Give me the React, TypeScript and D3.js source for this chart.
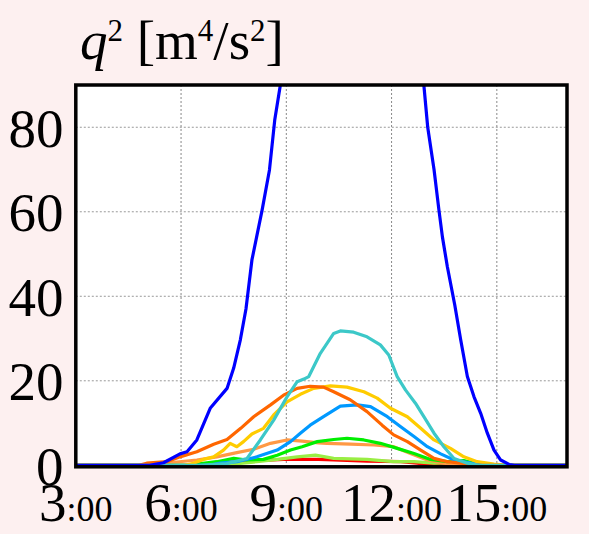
import React from "react";
import * as d3 from "d3";

const xTicks = [3, 6, 9, 12, 15];
const xTickLabels = ["3", "6", "9", "12", "15"];
const yTicks = [0, 20, 40, 60, 80];
const gridX = [6, 9, 12, 15];
const gridY = [20, 40, 60, 80];

type P = [number, number];

const blue: P[] = [
  [3, 0], [5.1, 0], [5.5, 0.6], [5.97, 2.7], [6.17, 3.2], [6.45, 6], [6.83, 13.5], [7.31, 18.2],
  [7.5, 23], [7.69, 29.7], [7.85, 37], [8.02, 48.6], [8.31, 60.4], [8.52, 69.9], [8.59, 75.4],
  [8.67, 81.7], [8.83, 90], [9.2, 110], [10, 140], [11, 160], [12, 140], [12.7, 102],
  [12.92, 90], [13.03, 80], [13.21, 70], [13.35, 60.4], [13.45, 54], [13.59, 47], [13.8, 38],
  [13.97, 29.7], [14.16, 21], [14.35, 16.2], [14.54, 12.3], [14.73, 7.6], [14.92, 3.6],
  [15.11, 1.25], [15.35, 0.2], [15.5, 0], [17, 0],
];
const cyan: P[] = [
  [3, 0], [6.5, 0], [7.3, 0.4], [7.88, 1.6], [8.26, 6], [8.64, 10.7], [9.02, 16.2], [9.31, 19.8],
  [9.5, 20.4], [9.64, 21], [9.97, 26.5], [10.35, 31.2], [10.54, 31.8], [10.92, 31.5], [11.3, 30.4],
  [11.68, 28.5], [11.92, 26.1], [12.16, 21], [12.4, 17.8], [12.68, 14.7], [12.92, 11.5],
  [13.21, 7.6], [13.49, 4.4], [13.78, 1.6], [14.16, 0.5], [14.5, 0], [17, 0],
];
const orangeRed: P[] = [
  [3, 0], [4.8, 0], [5.02, 0.5], [5.6, 0.85], [5.97, 2], [6.45, 3.2], [6.93, 5], [7.31, 6.1],
  [7.7, 8.75], [8.07, 11.5], [8.55, 14.3], [8.92, 16.6], [9.31, 18.2], [9.68, 18.7], [10.06, 18.5],
  [10.35, 17.4], [10.82, 15.5], [11.3, 12.7], [11.73, 9.5], [12.06, 7.2], [12.45, 5.6],
  [12.83, 3.6], [13.21, 1.65], [13.59, 0.85], [14.16, 0.3], [14.5, 0], [17, 0],
];
const gold: P[] = [
  [3, 0], [6.1, 0], [6.35, 0.5], [6.64, 1.4], [6.93, 2], [7.21, 3.6], [7.4, 5.2], [7.59, 4.4],
  [7.78, 5.6], [8.02, 7.4], [8.35, 8.75], [8.64, 11.9], [9.02, 15], [9.4, 16.8], [9.78, 18.2],
  [10.26, 18.8], [10.73, 18.5], [11.21, 17.4], [11.59, 15.9], [11.97, 13.5], [12.45, 11.5],
  [12.83, 8.75], [13.21, 6], [13.68, 4], [14.06, 2], [14.44, 0.85], [14.92, 0.3], [15.3, 0], [17, 0],
];
const dodger: P[] = [
  [3, 0], [6.8, 0], [7.12, 0.5], [7.59, 0.85], [8.16, 2], [8.74, 3.6], [9.12, 5.6], [9.4, 7.6],
  [9.68, 9.5], [10.06, 11.5], [10.54, 14], [11.02, 14.3], [11.4, 13.9], [11.88, 11.5],
  [12.26, 9.1], [12.64, 6.8], [13.02, 4.4], [13.4, 2.7], [13.78, 1.25], [14.26, 0.5], [14.7, 0], [17, 0],
];
const green: P[] = [
  [3, 0], [6.2, 0], [6.45, 0.3], [7.02, 0.85], [7.5, 1.65], [7.88, 1.25], [8.35, 1.4], [8.74, 2.4],
  [9.12, 3.6], [9.45, 4.4], [9.88, 5.6], [10.35, 6.1], [10.73, 6.4], [11.21, 6], [11.68, 5.2],
  [12.16, 4], [12.64, 2.8], [13.11, 1.4], [13.59, 0.85], [14.06, 1.1], [14.44, 0.3], [14.8, 0], [17, 0],
];
const lightOrange: P[] = [
  [3, 0], [5.0, 0], [5.31, 0.3], [6.45, 1.25], [7.02, 2], [7.59, 3], [8.07, 3.8], [8.55, 5.2],
  [9.02, 6], [9.45, 5.7], [9.92, 5.3], [10.16, 5.2], [10.83, 5], [11.5, 4.8], [12.06, 4.4],
  [12.54, 2.8], [13.02, 1.25], [13.49, 0.5], [14, 0], [17, 0],
];
const yellowGreen: P[] = [
  [3, 0], [7.2, 0], [7.4, 0.2], [8.16, 0.85], [8.74, 1.4], [9.31, 2], [9.83, 2.4], [10.35, 1.65],
  [11.3, 1.4], [12.06, 0.85], [12.64, 0.85], [13.21, 0.5], [13.87, 0.6], [14.3, 0], [17, 0],
];
const red: P[] = [
  [3, 0], [6.3, 0], [6.6, 0.3], [8.16, 1.1], [8.92, 1.4], [9.92, 1.4], [10.35, 1.25], [11.3, 1.0],
  [12.26, 0.85], [12.73, 0.5], [13.2, 0], [17, 0],
];

const seriesData = [red, yellowGreen, lightOrange, green, dodger, gold, orangeRed, cyan, blue];
const seriesColors = ["#ff0000", "#99ee44", "#ff9944", "#00ee00", "#0099ff", "#ffcc00", "#ff6600", "#3cc8c8", "#0000ff"];

const W = 589;
const H = 534;
const left = 75.8;
const right = 567;
const top = 85;
const bottom = 465.3;
const FONT = "'Liberation Serif', 'Times New Roman', Times, serif";

export default function App() {
  const x = d3.scaleLinear().domain([3, 17]).range([left, right]);
  const y = d3.scaleLinear().domain([0, 90]).range([bottom, top]);
  const line = d3
    .line<P>()
    .x((d) => x(d[0]))
    .y((d) => y(d[1]));

  return (
    <svg
      width={W}
      height={H}
      style={{ position: "absolute", left: 0, top: 0, background: "#fdf0f0" }}
    >
      <rect x={0} y={0} width={W} height={H} fill="#fdf0f0" />
      <defs>
        <clipPath id="plotclip">
          <rect x={left} y={top} width={right - left} height={bottom - top + 2} />
        </clipPath>
      </defs>
      <rect x={left} y={top} width={right - left} height={bottom - top} fill="#ffffff" />
      {gridX.map((t) => (
        <line key={"gx" + t} x1={x(t)} x2={x(t)} y1={top} y2={bottom} stroke="#888" strokeWidth={1} strokeDasharray="2,2" />
      ))}
      {gridY.map((v) => (
        <line key={"gy" + v} x1={left} x2={right} y1={y(v)} y2={y(v)} stroke="#999" strokeWidth={1} strokeDasharray="2,2" />
      ))}
      <g clipPath="url(#plotclip)">
        {seriesData.map((s, i) => (
          <path key={i} d={line(s) || ""} fill="none" stroke={seriesColors[i]} strokeWidth={3.2} strokeLinejoin="round" />
        ))}
      </g>
      <rect x={left} y={top} width={right - left} height={bottom - top + 1.5} fill="none" stroke="#000" strokeWidth={3.5} />
      {yTicks.map((v) => (
        <text key={"yl" + v} x={63.5} y={y(v) + 19.5} textAnchor="end" fontFamily={FONT} fontSize={55} fill="#000">
          {v}
        </text>
      ))}
      {xTicks.map((t, i) => (
        <text key={"xl" + t} x={x(t)} y={521} textAnchor="middle" fontFamily={FONT} fill="#000">
          <tspan fontSize={55}>{xTickLabels[i]}</tspan>
          <tspan fontSize={36}>:00</tspan>
        </text>
      ))}
      <text x={80} y={59} fontFamily={FONT} fontSize={55} fill="#000">
        <tspan fontStyle="italic">q</tspan>
        <tspan fontSize={31} dy={-18}>2</tspan>
        <tspan dy={18}> [m</tspan>
        <tspan fontSize={31} dy={-18}>4</tspan>
        <tspan dy={18}>/s</tspan>
        <tspan fontSize={31} dy={-18}>2</tspan>
        <tspan dy={18}>]</tspan>
      </text>
    </svg>
  );
}
